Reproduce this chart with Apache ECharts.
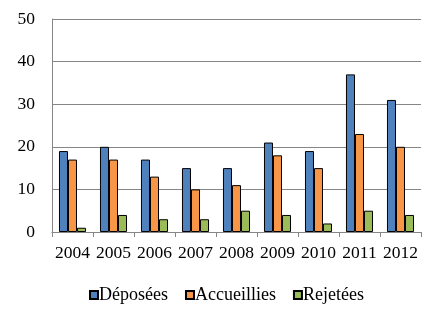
<!DOCTYPE html>
<html><head><meta charset="utf-8">
<script src="https://cdn.jsdelivr.net/npm/echarts@6/dist/echarts.min.js"></script>
<style>html,body{margin:0;padding:0;background:#fff}#c{width:446px;height:322px}</style>
</head><body><div id="c"></div>
<script>
const categories = ['2004','2005','2006','2007','2008','2009','2010','2011','2012'];
const deposees = [19,20,17,15,15,21,19,37,31];
const accueillies = [17,17,13,10,11,18,15,23,20];
const rejetees = [1,4,3,3,5,4,2,5,4];
const yTicks = {min:0, max:50, interval:10};

const font = 'Liberation Serif, Times New Roman, serif';
const chart = echarts.init(document.getElementById('c'), null, {renderer:'canvas'});
const barStyle = c => ({color:c, borderColor:'#000', borderWidth:1});
chart.setOption({
  animation:false,
  grid:{left:52, right:25, top:19, bottom:90},
  legend:{
    top:281, left:84, itemWidth:8, itemHeight:8, itemGap:17,
    textStyle:{fontFamily:font, fontSize:18, color:'#000', padding:[0,0,0,-4]},
    data:[{name:'Déposées',icon:'rect'},{name:'Accueillies',icon:'rect'},{name:'Rejetées',icon:'rect'}]
  },
  xAxis:{
    type:'category', data:categories,
    axisLine:{lineStyle:{color:'#868686'}},
    axisTick:{show:true, length:5, lineStyle:{color:'#868686'}},
    axisLabel:{fontFamily:font, fontSize:17.5, color:'#000', margin:12, interval:0}
  },
  yAxis:{
    type:'value', min:yTicks.min, max:yTicks.max, interval:yTicks.interval,
    axisLine:{show:true, lineStyle:{color:'#868686'}},
    axisTick:{show:false},
    splitLine:{lineStyle:{color:'#868686'}},
    axisLabel:{fontFamily:font, fontSize:17.5, color:'#000', margin:17}
  },
  series:[
    {name:'Déposées', type:'bar', data:deposees, itemStyle:barStyle('#4F81BD'), barGap:'0%', barCategoryGap:'34%'},
    {name:'Accueillies', type:'bar', data:accueillies, itemStyle:barStyle('#F79646'), barGap:'0%', barCategoryGap:'34%'},
    {name:'Rejetées', type:'bar', data:rejetees, itemStyle:barStyle('#9BBB59'), barGap:'0%', barCategoryGap:'34%'}
  ]
});
</script></body></html>
